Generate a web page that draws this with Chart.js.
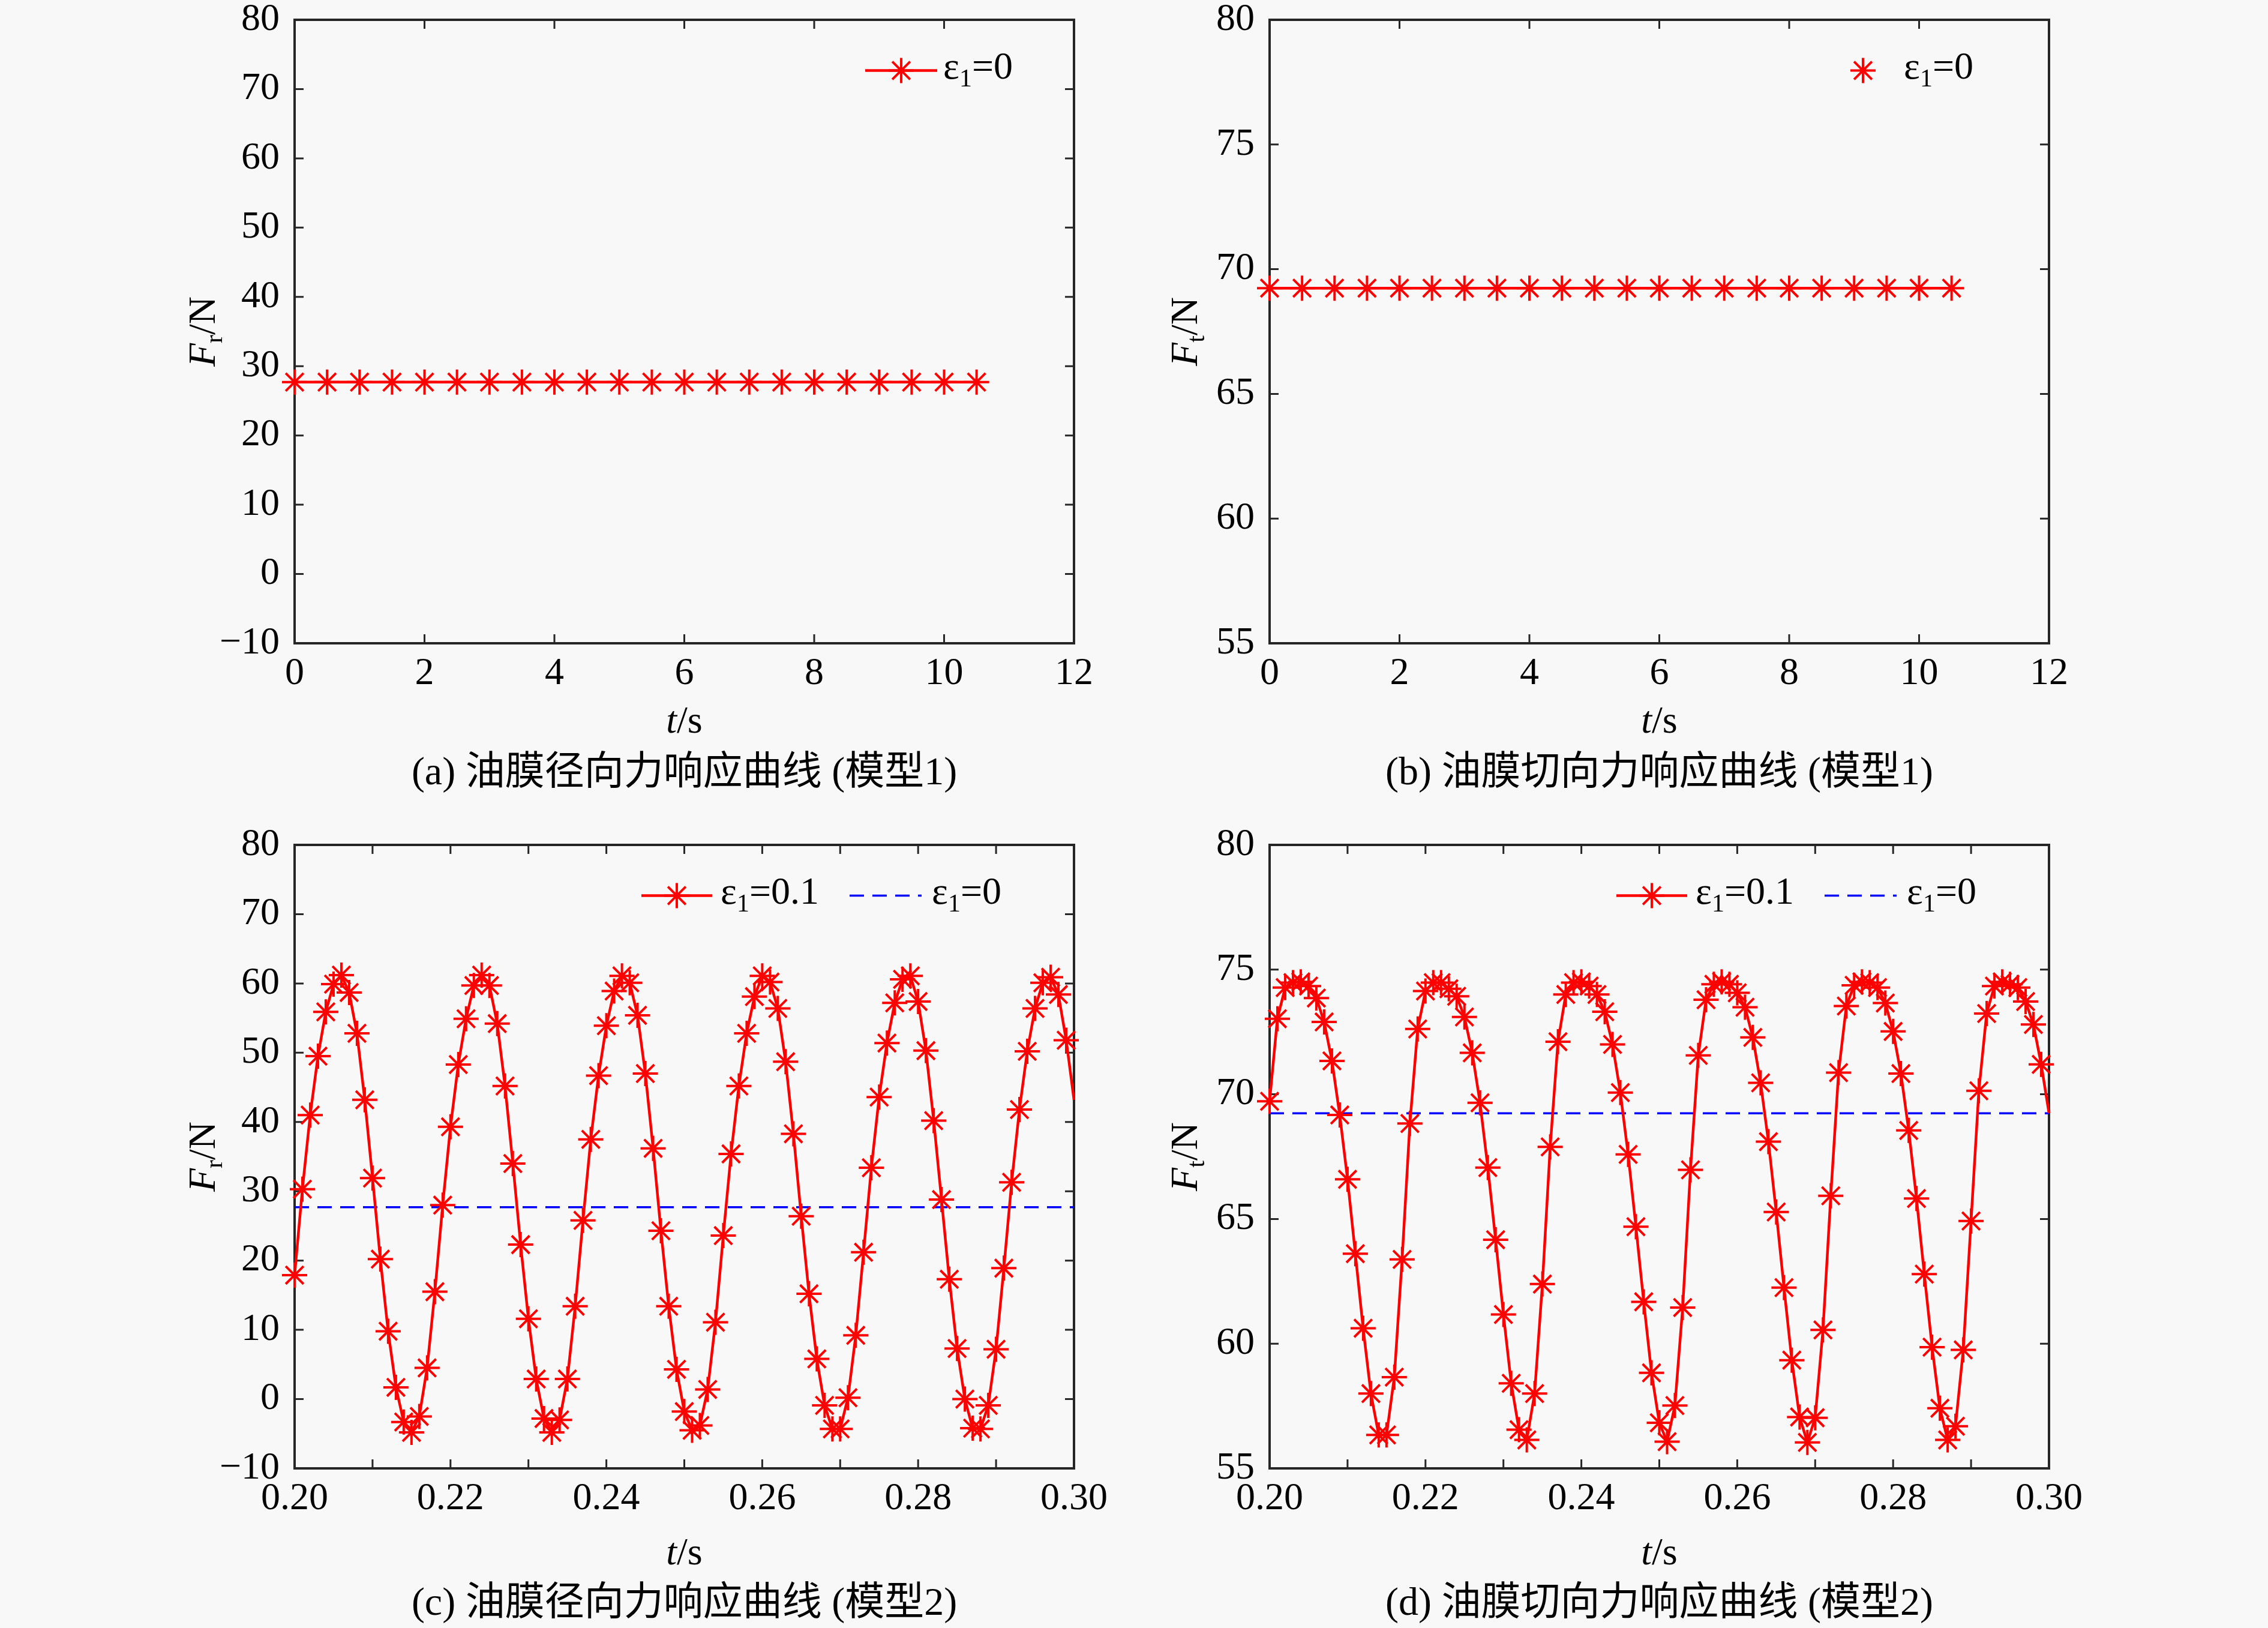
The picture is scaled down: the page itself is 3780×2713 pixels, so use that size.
<!DOCTYPE html>
<html><head><meta charset="utf-8">
<script src="https://cdn.jsdelivr.net/npm/chart.js@4.4.1/dist/chart.umd.min.js"></script>
<style>
html,body{margin:0;padding:0;background:#f8f8f8;overflow:hidden;width:3780px;height:2713px;position:relative;}
canvas{position:absolute;}
</style></head><body>
<canvas id="ca" width="1900" height="1500" style="left:0px;top:-100px;width:1900px;height:1500px"></canvas>
<canvas id="cb" width="1900" height="1500" style="left:1625px;top:-100px;width:1900px;height:1500px"></canvas>
<canvas id="cc" width="1900" height="1500" style="left:0px;top:1275px;width:1900px;height:1500px"></canvas>
<canvas id="cd" width="1900" height="1500" style="left:1625px;top:1275px;width:1900px;height:1500px"></canvas>
<script>
// ---------- data ----------
const tModel1 = [0,0.5,1,1.5,2,2.5,3,3.5,4,4.5,5,5.5,6,6.5,7,7.5,8,8.5,9,9.5,10,10.5];
const frModel1 = [27.7,27.7,27.7,27.7,27.7,27.7,27.7,27.7,27.7,27.7,27.7,27.7,27.7,27.7,27.7,27.7,27.7,27.7,27.7,27.7,27.7,27.7];
const ftModel1 = [69.24,69.24,69.24,69.24,69.24,69.24,69.24,69.24,69.24,69.24,69.24,69.24,69.24,69.24,69.24,69.24,69.24,69.24,69.24,69.24,69.24,69.24];

const tModel2 = [0.200,0.201,0.202,0.203,0.204,0.205,0.206,0.207,0.208,0.209,
0.210,0.211,0.212,0.213,0.214,0.215,0.216,0.217,0.218,0.219,
0.220,0.221,0.222,0.223,0.224,0.225,0.226,0.227,0.228,0.229,
0.230,0.231,0.232,0.233,0.234,0.235,0.236,0.237,0.238,0.239,
0.240,0.241,0.242,0.243,0.244,0.245,0.246,0.247,0.248,0.249,
0.250,0.251,0.252,0.253,0.254,0.255,0.256,0.257,0.258,0.259,
0.260,0.261,0.262,0.263,0.264,0.265,0.266,0.267,0.268,0.269,
0.270,0.271,0.272,0.273,0.274,0.275,0.276,0.277,0.278,0.279,
0.280,0.281,0.282,0.283,0.284,0.285,0.286,0.287,0.288,0.289,
0.290,0.291,0.292,0.293,0.294,0.295,0.296,0.297,0.298,0.299,0.300];
const frEps01 = [17.9,30.3,41.0,49.5,55.9,59.9,61.2,58.7,52.8,43.2,
31.9,20.2,9.8,1.7,-3.3,-4.8,-2.5,4.5,15.5,28.0,
39.3,48.3,54.9,59.7,61.2,59.7,54.2,45.2,34.0,22.3,
11.6,2.9,-2.8,-4.8,-3.0,2.9,13.4,25.8,37.5,46.7,
53.9,58.9,61.1,60.1,55.4,47.0,36.2,24.3,13.4,4.3,
-1.8,-4.5,-3.8,1.4,11.1,23.6,35.4,45.2,52.8,58.1,
61.1,60.2,56.4,48.7,38.3,26.4,15.2,5.8,-0.9,-4.3,
-4.3,0.2,9.2,21.2,33.4,43.6,51.4,57.2,60.6,61.1,
57.4,50.3,40.2,28.8,17.3,7.3,0.0,-4.2,-4.3,-0.9,
7.2,18.9,31.3,41.8,50.2,56.4,60.1,60.9,58.4,51.8,43.2];
const ftEps01 = [69.72,73.03,74.28,74.48,74.51,74.34,73.86,72.9,71.34,69.17,
66.59,63.61,60.62,58.0,56.34,56.34,58.66,63.38,68.83,72.62,
74.14,74.48,74.48,74.23,73.93,73.1,71.66,69.66,67.06,64.17,
61.17,58.41,56.55,56.14,58.0,62.39,67.89,72.11,74.0,74.48,
74.51,74.34,74.0,73.31,72.0,70.07,67.59,64.69,61.68,58.83,
56.83,56.07,57.52,61.45,66.97,71.56,73.79,74.41,74.51,74.41,
74.07,73.49,72.28,70.46,68.1,65.28,62.25,59.34,57.06,56.04,
57.03,60.55,65.93,70.87,73.54,74.37,74.51,74.48,74.28,73.66,
72.52,70.83,68.55,65.82,62.79,59.86,57.41,56.14,56.69,59.75,
64.92,70.14,73.24,74.34,74.51,74.41,74.28,73.72,72.8,71.2,69.24];
const tConst = [0.2, 0.3];
const frEps0 = [27.7, 27.7];
const ftEps0 = [69.24, 69.24];

// ---------- tick labels ----------
const xTicksM1 = [0,2,4,6,8,10,12];
const xLabelsM1 = ['0','2','4','6','8','10','12'];
const xTicksM2 = [0.20,0.21,0.22,0.23,0.24,0.25,0.26,0.27,0.28,0.29,0.30];
const xLabelsM2 = ['0.20','','0.22','','0.24','','0.26','','0.28','','0.30'];
const yTicksFr = [-10,0,10,20,30,40,50,60,70,80];
const yLabelsFr = ['\u221210','0','10','20','30','40','50','60','70','80'];
const yTicksFt = [55,60,65,70,75,80];
const yLabelsFt = ['55','60','65','70','75','80'];

// ---------- drawing ----------
const SERIF = '"Liberation Serif", "Times New Roman", serif';
const CAPF = '"Liberation Serif", "Noto Sans CJK SC", serif';
const RED = '#ff0000', BLUE = '#0000ff', AX = '#262626';
const MR = 21, MW = 4;

function rich(ctx, parts, x, y, align) {
  let w = 0;
  parts.forEach(p => { ctx.font = p.font; p.w = ctx.measureText(p.t).width; w += p.w; });
  let cx = align === 'center' ? x - w / 2 : x;
  parts.forEach(p => { ctx.font = p.font; ctx.fillText(p.t, cx, y + (p.dy || 0)); cx += p.w; });
}
function star(ctx, x, y, r) {
  ctx.save();
  ctx.strokeStyle = RED; ctx.lineWidth = MW;
  ctx.beginPath();
  for (let k = 0; k < 4; k++) {
    const a = k * Math.PI / 4;
    ctx.moveTo(x - Math.cos(a) * r, y - Math.sin(a) * r);
    ctx.lineTo(x + Math.cos(a) * r, y + Math.sin(a) * r);
  }
  ctx.stroke();
  ctx.restore();
}
function epsLabel(val) {
  return [
    {t: '\u03b5', font: `64px ${SERIF}`},
    {t: '1', font: `42px ${SERIF}`, dy: 13},
    {t: '=' + val, font: `64px ${SERIF}`}
  ];
}

const deco = {
  id: 'deco',
  beforeDatasetsDraw(chart) {
    const {ctx, chartArea: a, scales} = chart;
    const xs = scales.x, ys = scales.y;
    ctx.save();
    ctx.strokeStyle = AX;
    ctx.lineWidth = 3;
    ctx.beginPath();
    xs.ticks.forEach(t => {
      const p = xs.getPixelForValue(t.value);
      ctx.moveTo(p, a.bottom); ctx.lineTo(p, a.bottom - 15);
      ctx.moveTo(p, a.top); ctx.lineTo(p, a.top + 15);
    });
    ys.ticks.forEach(t => {
      const p = ys.getPixelForValue(t.value);
      ctx.moveTo(a.left, p); ctx.lineTo(a.left + 15, p);
      ctx.moveTo(a.right, p); ctx.lineTo(a.right - 15, p);
    });
    ctx.stroke();
    ctx.lineWidth = 4;
    ctx.strokeRect(a.left, a.top, a.right - a.left, a.bottom - a.top);
    ctx.restore();
  },
  afterDraw(chart, args, o) {
    const {ctx, chartArea: a} = chart;
    ctx.save();
    ctx.fillStyle = '#000';
    ctx.textBaseline = 'alphabetic';
    ctx.textAlign = 'left';
    const cx = (a.left + a.right) / 2;
    rich(ctx, [{t: 't', font: `italic 64px ${SERIF}`}, {t: '/s', font: `64px ${SERIF}`}], cx, a.bottom + o.xDy, 'center');
    rich(ctx, [{t: o.caption, font: `66px ${CAPF}`}], cx, a.bottom + o.capDy, 'center');
    ctx.save();
    ctx.translate(a.left - o.yOff, (a.top + a.bottom) / 2);
    ctx.rotate(-Math.PI / 2);
    rich(ctx, [
      {t: 'F', font: `italic 64px ${SERIF}`},
      {t: o.sub, font: `42px ${SERIF}`, dy: 12},
      {t: '/N', font: `64px ${SERIF}`}
    ], 0, 21, 'center');
    ctx.restore();
    const ly = a.top + 84.5;
    o.legend.forEach(it => {
      const x0 = a.left + it.x0, x1 = a.left + it.x1;
      if (it.kind === 'line') {
        ctx.save(); ctx.strokeStyle = RED; ctx.lineWidth = 4.5;
        ctx.beginPath(); ctx.moveTo(x0, ly); ctx.lineTo(x1, ly); ctx.stroke(); ctx.restore();
        star(ctx, (x0 + x1) / 2, ly, MR);
      } else if (it.kind === 'marker') {
        star(ctx, x0, ly, MR);
      } else if (it.kind === 'dash') {
        ctx.save(); ctx.strokeStyle = BLUE; ctx.lineWidth = 3.5; ctx.setLineDash([24, 14]);
        ctx.beginPath(); ctx.moveTo(x0, ly); ctx.lineTo(x1, ly); ctx.stroke(); ctx.restore();
      }
      ctx.fillStyle = '#000';
      rich(ctx, epsLabel(it.val), a.left + it.tx, ly + 13, 'left');
    });
    ctx.restore();
  }
};

function pts(xs, ys) { return xs.map((x, i) => ({x: x, y: ys[i]})); }

function makeChart(id, cfg) {
  const tickFont = {family: SERIF, size: 64};
  return new Chart(document.getElementById(id), {
    type: 'line',
    data: {datasets: cfg.datasets},
    options: {
      responsive: false, animation: false, devicePixelRatio: 1,
      layout: {padding: {left: 291, top: 133, right: 110, bottom: 208}},
      plugins: {legend: {display: false}, tooltip: {enabled: false}, deco: cfg.deco},
      scales: {
        x: {
          type: 'linear', min: cfg.xMin, max: cfg.xMax,
          afterBuildTicks: s => { s.ticks = cfg.xTicks.map(v => ({value: v})); },
          afterFit: s => { s.height = 120; },
          grid: {display: false, drawTicks: false}, border: {display: false},
          ticks: {padding: 13, font: tickFont, color: '#000', autoSkip: false, maxRotation: 0, minRotation: 0,
                  callback: (v, i) => cfg.xLabels[i]}
        },
        y: {
          type: 'linear', min: cfg.yMin, max: cfg.yMax,
          afterBuildTicks: s => { s.ticks = cfg.yTicks.map(v => ({value: v})); },
          afterFit: s => { s.width = 200; },
          grid: {display: false, drawTicks: false}, border: {display: false},
          ticks: {padding: 25, font: tickFont, color: '#000', autoSkip: false,
                  callback: (v, i) => cfg.yLabels[i]}
        }
      }
    },
    plugins: [deco]
  });
}

function redSeries(xs, ys, hideLast) {
  const last = xs.length - 1;
  return {
    data: pts(xs, ys), borderColor: RED, borderWidth: 4.5, tension: 0, fill: false,
    pointStyle: 'star', pointBorderColor: RED, pointBackgroundColor: RED, pointBorderWidth: MW,
    pointRadius: c => (hideLast && c.dataIndex === last) ? 0 : MR,
    clip: 30, order: 1
  };
}
function blueSeries(xs, ys) {
  return {data: pts(xs, ys), borderColor: BLUE, borderWidth: 3.5, borderDash: [24, 14],
          pointRadius: 0, tension: 0, fill: false, clip: 0, order: 2};
}

const legM1a = [{kind: 'line', x0: 951, x1: 1071, tx: 1081, val: '0'}];
const legM1b = [{kind: 'marker', x0: 989, x1: 989, tx: 1057, val: '0'}];
const legM2 = [{kind: 'line', x0: 578, x1: 696, tx: 710, val: '0.1'},
               {kind: 'dash', x0: 925, x1: 1045, tx: 1062, val: '0'}];

makeChart('ca', {
  datasets: [redSeries(tModel1, frModel1, false)],
  xMin: 0, xMax: 12, xTicks: xTicksM1, xLabels: xLabelsM1,
  yMin: -10, yMax: 80, yTicks: yTicksFr, yLabels: yLabelsFr,
  deco: {caption: '(a) 油膜径向力响应曲线 (模型1)', sub: 'r', yOff: 154, xDy: 149, capDy: 235, legend: legM1a}
});
makeChart('cb', {
  datasets: [redSeries(tModel1, ftModel1, false)],
  xMin: 0, xMax: 12, xTicks: xTicksM1, xLabels: xLabelsM1,
  yMin: 55, yMax: 80, yTicks: yTicksFt, yLabels: yLabelsFt,
  deco: {caption: '(b) 油膜切向力响应曲线 (模型1)', sub: 't', yOff: 142, xDy: 149, capDy: 235, legend: legM1b}
});
makeChart('cc', {
  datasets: [blueSeries(tConst, frEps0), redSeries(tModel2, frEps01, true)],
  xMin: 0.2, xMax: 0.3, xTicks: xTicksM2, xLabels: xLabelsM2,
  yMin: -10, yMax: 80, yTicks: yTicksFr, yLabels: yLabelsFr,
  deco: {caption: '(c) 油膜径向力响应曲线 (模型2)', sub: 'r', yOff: 154, xDy: 160, capDy: 244, legend: legM2}
});
makeChart('cd', {
  datasets: [blueSeries(tConst, ftEps0), redSeries(tModel2, ftEps01, true)],
  xMin: 0.2, xMax: 0.3, xTicks: xTicksM2, xLabels: xLabelsM2,
  yMin: 55, yMax: 80, yTicks: yTicksFt, yLabels: yLabelsFt,
  deco: {caption: '(d) 油膜切向力响应曲线 (模型2)', sub: 't', yOff: 142, xDy: 160, capDy: 244, legend: legM2}
});
</script>
</body></html>
